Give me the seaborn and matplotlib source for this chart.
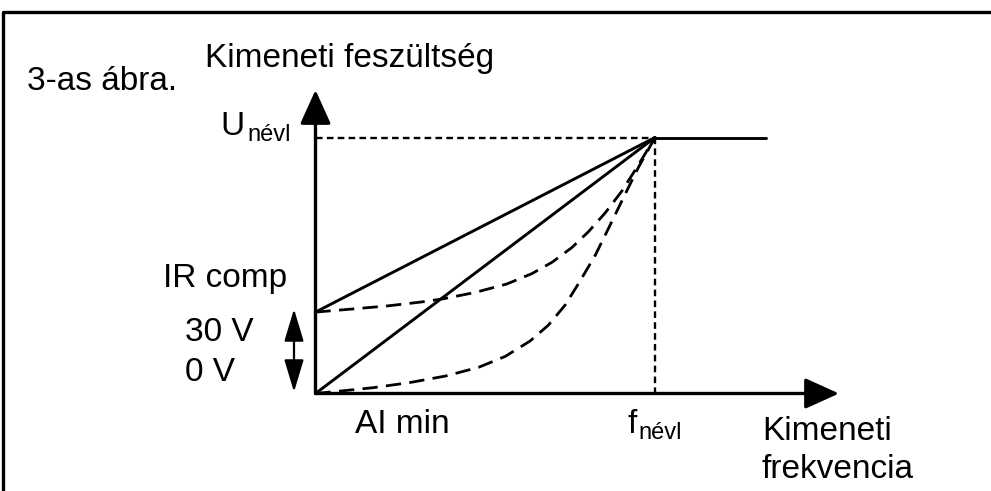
import matplotlib.pyplot as plt
import pandas as pd
import seaborn as sns

# V/f characteristic (x = f / f_névl, y = U / U_névl)
ir_comp = 0.318
boost_x = [0.0, 1.0]
boost_y = [ir_comp, 1.0]
linear_x = [0.0, 1.0]
linear_y = [0.0, 1.0]
flat_x = [1.0, 1.327]
flat_y = [1.0, 1.0]

quad_boost_x = [0.0, 0.108, 0.211, 0.309, 0.377, 0.471, 0.564, 0.637, 0.696,
                0.755, 0.804, 0.853, 0.902, 0.946, 1.0]
quad_boost_y = [0.318, 0.330, 0.342, 0.357, 0.370, 0.395, 0.428, 0.468, 0.512,
                0.570, 0.632, 0.705, 0.790, 0.882, 1.0]
quad_x = [0.0, 0.069, 0.172, 0.279, 0.382, 0.480, 0.559, 0.632, 0.686, 0.735,
          0.775, 0.824, 0.863, 0.907, 0.951, 1.0]
quad_y = [0.0, 0.009, 0.023, 0.043, 0.068, 0.102, 0.145, 0.205, 0.267, 0.345,
          0.430, 0.540, 0.645, 0.765, 0.883, 1.0]

sns.set_theme(style="white")
plt.rcParams["font.family"] = ["Liberation Sans", "DejaVu Sans"]

W, H = 991, 491
X0, Y0 = 315.5, 393.5   # pixel position of the origin
SX, SY = 339.5, 256.0   # pixels per unit


def px(x, y):
    # reference pixel -> data coordinates
    return ((x - X0) / SX, (Y0 - y) / SY)


fig = plt.figure(figsize=(W / 100, H / 100), dpi=100)
ax = fig.add_axes([0, 0, 1, 1])
ax.set_xlim(-X0 / SX, (W - X0) / SX)
ax.set_ylim(-(H - Y0) / SY, Y0 / SY)
ax.axis("off")

# curves
solid = pd.concat([
    pd.DataFrame({"f": boost_x, "U": boost_y, "curve": "boost"}),
    pd.DataFrame({"f": linear_x, "U": linear_y, "curve": "linear"}),
    pd.DataFrame({"f": flat_x, "U": flat_y, "curve": "flat"}),
])
dashed = pd.concat([
    pd.DataFrame({"f": quad_boost_x, "U": quad_boost_y, "curve": "qboost"}),
    pd.DataFrame({"f": quad_x, "U": quad_y, "curve": "quad"}),
])
sns.lineplot(data=solid, x="f", y="U", units="curve", estimator=None, sort=False,
             color="black", lw=2.1, ax=ax, legend=False)
sns.lineplot(data=dashed, x="f", y="U", units="curve", estimator=None, sort=False,
             color="black", lw=2.0, ax=ax, legend=False)
for line in ax.lines[-2:]:
    line.set_dashes((5.5, 3))
    line.set_solid_joinstyle("round")

# nominal point guides
ax.plot([0, 1], [1, 1], color="black", lw=1.7, dashes=(2.8, 1.8))
ax.plot([1, 1], [0, 1], color="black", lw=1.7, dashes=(2.8, 1.8))

# axes with arrows
axis_arrow = dict(arrowstyle="-|>,head_length=2.1,head_width=0.95", color="black",
                  lw=2.4, shrinkA=0, shrinkB=0, mutation_scale=10)
ax.annotate("", xy=px(315.5, 90), xytext=(0, 0), arrowprops=axis_arrow)
ax.annotate("", xy=(px(839, 0)[0], 0), xytext=(0, 0), arrowprops=axis_arrow)
ax.annotate("", xy=px(294, 392), xytext=px(294, 309),
            arrowprops=dict(arrowstyle="<|-|>,head_length=2.0,head_width=0.6",
                            color="black", lw=1.6, shrinkA=0, shrinkB=0,
                            mutation_scale=10))

# frame
ax.plot([3.3 / W, 3.3 / W, 1.01], [-0.01, 1 - 12.3 / H, 1 - 12.3 / H],
        transform=ax.transAxes, color="black", lw=2.4, clip_on=False,
        solid_capstyle="projecting")

fs, fs_sub = 24, 17
texts = [
    ("3-as ábra.", 27, 90, fs),
    ("Kimeneti feszültség", 205, 67, fs),
    ("U", 220, 135, fs),
    ("névl", 247, 141, fs_sub),
    ("IR comp", 163, 287, fs),
    ("30 V", 185, 341, fs),
    ("0 V", 185, 381, fs),
    ("AI min", 355, 433, fs),
    ("f", 628, 433, fs),
    ("névl", 638, 439, fs_sub),
    ("Kimeneti", 762, 440, fs),
    ("frekvencia", 762, 478, fs),
]
for s, x, y, size in texts:
    ax.text(*px(x, y), s, fontsize=size, ha="left", va="baseline", color="black")

fig.savefig("out.png", dpi=100)
